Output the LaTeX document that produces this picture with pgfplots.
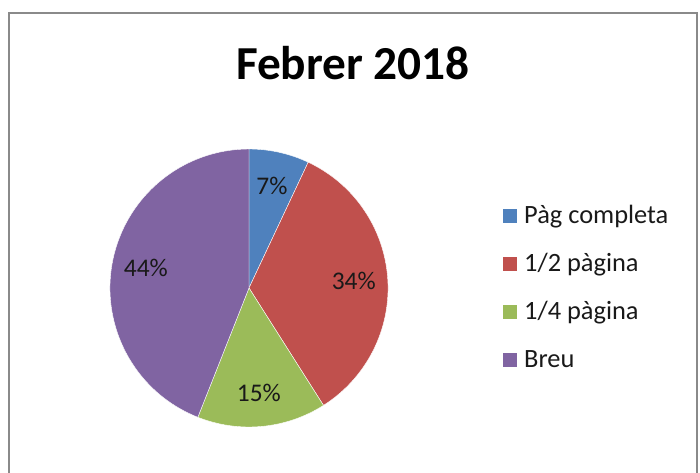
\documentclass[border=0pt]{standalone}
\usepackage{pgfplots}
\pgfplotsset{compat=1.18}
\usepackage{pgfplotstable}
\usepackage{fontspec}
\setmainfont{Carlito}
\definecolor{c0}{HTML}{4F81BD}
\definecolor{c1}{HTML}{C0504D}
\definecolor{c2}{HTML}{9BBB59}
\definecolor{c3}{HTML}{8064A2}
\definecolor{frame}{HTML}{8A8A8A}
\pgfplotstableread[col sep=comma]{
label,value
Pàg completa,7
1/2 pàgina,34
1/4 pàgina,15
Breu,44
}\piedata
\begin{document}
\begin{tikzpicture}
\pgfmathsetmacro\cum{90}
\pgfplotsforeachungrouped \i in {0,...,3}{%
  \pgfplotstablegetelem{\i}{value}\of\piedata
  \edef\val{\pgfplotsretval}%
  \pgfmathsetmacro\endang{\cum-3.6*\val}%
  \pgfmathsetmacro\midang{(\cum+\endang)/2}%
  \expandafter\xdef\csname sA\i\endcsname{\cum}%
  \expandafter\xdef\csname eA\i\endcsname{\endang}%
  \expandafter\xdef\csname mA\i\endcsname{\midang}%
  \expandafter\xdef\csname vA\i\endcsname{\val}%
  \pgfplotstablegetelem{\i}{label}\of\piedata
  \expandafter\xdef\csname lA\i\endcsname{\pgfplotsretval}%
  \global\let\cum\endang
}
\begin{axis}[scale only axis, width=700bp, height=472bp,
  xmin=0, xmax=700, ymin=0, ymax=472, y dir=reverse,
  hide axis, clip=false]
\draw[frame, line width=1.3bp] (axis cs:9,480) -- (axis cs:9,13) -- (axis cs:697,13) -- (axis cs:697,480);
\node[anchor=base, inner sep=0, font=\bfseries\fontsize{47.5}{52}\selectfont] at (axis cs:353,79) {Febrer 2018};
\pgfplotsinvokeforeach{0,...,3}{
  \fill[c#1, draw=white, line width=0.4bp] (axis cs:249,288) -- ++(\csname sA#1\endcsname:139bp)
     arc[start angle=\csname sA#1\endcsname, end angle=\csname eA#1\endcsname, radius=139bp] -- cycle;
  \path (axis cs:249,288) ++(\csname mA#1\endcsname:105bp)
     node[font=\fontsize{25.5}{28}\selectfont, text=black!90] {\csname vA#1\endcsname\%};
  \path (axis cs:509.5,216) ++(0bp,{-48bp*#1}) node[fill=c#1, minimum size=14bp, inner sep=0] {};
  \path (axis cs:524,223) ++(0bp,{-48bp*#1})
     node[anchor=base west, inner sep=0, font=\fontsize{26.5}{28}\selectfont, text=black!90] {\csname lA#1\endcsname};
}
\end{axis}
\pgfresetboundingbox
\path[use as bounding box] (current axis.south west) rectangle (current axis.north east);
\end{tikzpicture}
\end{document}
